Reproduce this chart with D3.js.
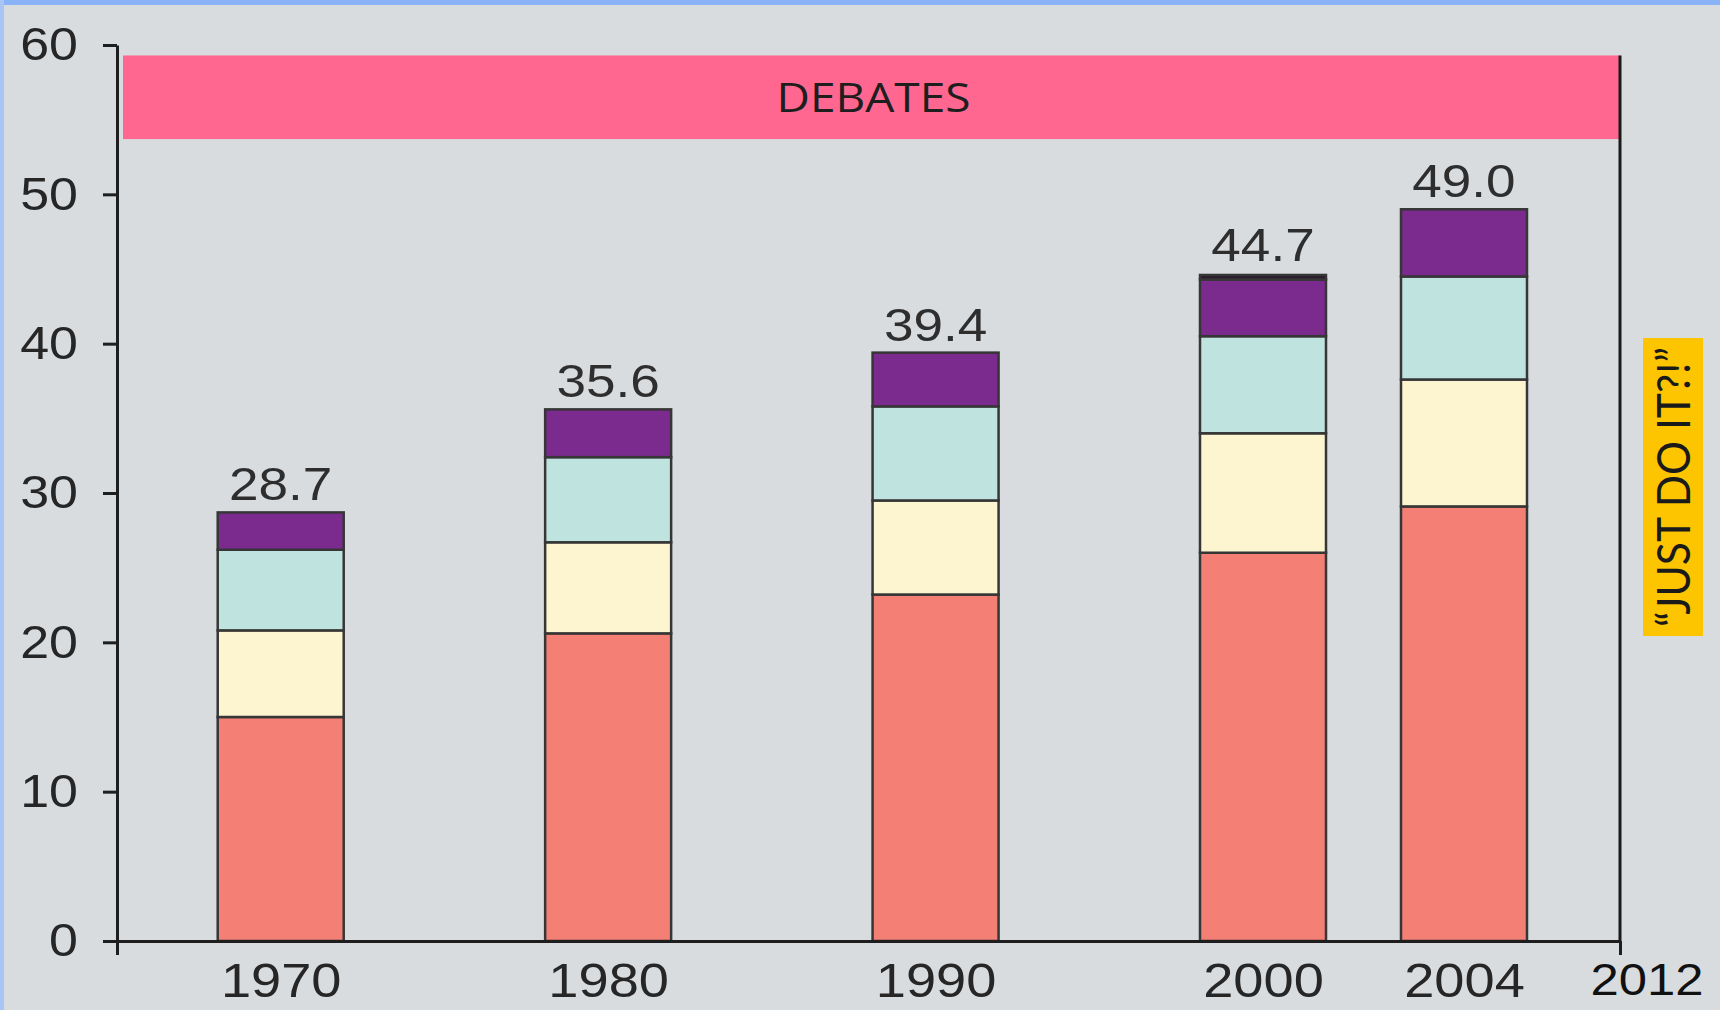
<!DOCTYPE html>
<meta charset="utf-8">
<style>
  body { margin: 0; background: #d9dcdf; }
  text { font-family: "Liberation Sans", Arial, sans-serif; }
</style>
<body>
<div id="chart"></div>
<script src="https://d3js.org/d3.v7.min.js"></script>
<script>

// Data ----------------
var years  = [1970, 1980, 1990, 2000, 2004];
var totals = [28.7, 35.6, 39.4, 44.7, 49.0];
var seg1 = [15.0, 20.6, 23.2, 26.0, 29.1];   // salmon
var seg2 = [5.8, 6.1, 6.3, 8.0, 8.5];        // cream
var seg3 = [5.4, 5.7, 6.3, 6.5, 6.9];        // pale teal
var seg4 = [2.5, 3.2, 3.6, 3.8, 4.5];        // purple
var seg5 = [0, 0, 0, 0.3, 0];                // dark cap
var yTicks = [0, 10, 20, 30, 40, 50, 60];
var endYear = 2012;
var bandLabel = "DEBATES";
var sideLabel = "\u201CJUST DO IT?!\u201D";

var keys = ["seg1", "seg2", "seg3", "seg4", "seg5"];
var colors = {seg1: "#f47f74", seg2: "#fdf5cf", seg3: "#bfe3df", seg4: "#7b2a8e", seg5: "#2b1a2e"};

var rows = years.map(function(y, i) {
  return {year: y, total: totals[i], seg1: seg1[i], seg2: seg2[i], seg3: seg3[i], seg4: seg4[i], seg5: seg5[i]};
});

// Layout ----------------
var W = 1720, H = 1010;
var barWidth = 126;
var stretchK = 1.13;   // numbers in the original are a bit wider than Arial

// x is piecewise: the 2000 -> 2004 -> 2012 stretch is squeezed in the original
var x = d3.scaleLinear()
    .domain([1965, 2000, 2004, endYear])
    .range([117, 1263, 1464, 1620]);
var y = d3.scaleLinear().domain([0, 60]).range([941, 45]);

// widen text horizontally, keeping its anchor in place
function stretch(sel) {
  sel.each(function() {
    var t = d3.select(this);
    var x0 = +t.attr("x") || 0;
    t.attr("x", x0 / stretchK).attr("transform", "scale(" + stretchK + ",1)");
  });
}

var svg = d3.select("#chart").append("svg")
    .attr("width", W)
    .attr("height", H);

svg.append("rect").attr("width", W).attr("height", H).attr("fill", "#d9dcdf");
svg.append("rect").attr("width", W).attr("height", 5).attr("fill", "#8ab2f6");
svg.append("rect").attr("width", 4).attr("height", H).attr("fill", "#a9c5f3");

// Debates band ----------------
svg.append("rect")
    .attr("x", x(1965) + 6)
    .attr("y", y(59.3))
    .attr("width", x(endYear) - x(1965) - 6)
    .attr("height", y(53.7) - y(59.3))
    .attr("fill", "#ff6690");

svg.append("text")
    .attr("x", (x(1965) + x(endYear)) / 2 + 5)
    .attr("y", (y(59.3) + y(53.7)) / 2)
    .attr("dy", "0.36em")
    .attr("text-anchor", "middle")
    .attr("textLength", 194)
    .attr("lengthAdjust", "spacingAndGlyphs")
    .style("font-family", "'Open Sans', Lato, sans-serif")
    .style("font-size", "41px")
    .attr("fill", "#1e1e1e")
    .text(bandLabel);

// 2012 line
svg.append("line")
    .attr("x1", x(endYear)).attr("x2", x(endYear))
    .attr("y1", y(59.3)).attr("y2", y(0))
    .attr("stroke", "#1a1a1a")
    .attr("stroke-width", 3);

// Stacked bars ----------------
var stack = d3.stack().keys(keys);
var series = stack(rows);

svg.append("g").selectAll("g")
  .data(series)
  .enter().append("g")
    .attr("fill", function(d) { return colors[d.key]; })
  .selectAll("rect")
  .data(function(d) { return d.filter(function(p) { return p[1] > p[0]; }); })
  .enter().append("rect")
    .attr("x", function(d) { return x(d.data.year) - barWidth / 2; })
    .attr("y", function(d) { return y(d[1]); })
    .attr("width", barWidth)
    .attr("height", function(d) { return y(d[0]) - y(d[1]); })
    .attr("stroke", "#363636")
    .attr("stroke-width", 2.5);

svg.append("g").selectAll("text")
  .data(rows)
  .enter().append("text")
    .attr("x", function(d) { return x(d.year); })
    .attr("y", function(d) { return y(d.total) - 12; })
    .attr("text-anchor", "middle")
    .style("font-size", "47px")
    .attr("fill", "#2e2e2e")
    .text(function(d) { return d.total.toFixed(1); })
    .call(stretch);

// Axes ----------------
var yAxis = svg.append("g")
    .attr("transform", "translate(" + x(1965) + ",0)")
    .call(d3.axisLeft(y).tickValues(yTicks).tickSize(14).tickSizeOuter(0).tickPadding(25));

var xEnds = svg.append("g")
    .attr("transform", "translate(0," + y(0) + ")")
    .call(d3.axisBottom(x).tickValues([1965, endYear]).tickSize(14).tickSizeOuter(0).tickFormat(""));

var xLabels = svg.append("g")
    .attr("transform", "translate(0," + y(0) + ")")
    .call(d3.axisBottom(x).tickValues(years).tickSize(0).tickPadding(22).tickFormat(d3.format("d")));
xLabels.select(".domain").remove();

svg.append("text")
    .attr("x", x(endYear) + 27)
    .attr("y", y(0) + 22)
    .attr("dy", "0.71em")
    .attr("text-anchor", "middle")
    .style("font-size", "45px")
    .attr("fill", "#111")
    .text(endYear)
    .call(stretch);

[yAxis, xEnds].forEach(function(g) {
  g.selectAll(".domain, line").attr("stroke", "#1e1e1e").attr("stroke-width", 3);
});
yAxis.selectAll("text").style("font-size", "46px").attr("fill", "#262626").call(stretch);
xLabels.selectAll("text").style("font-size", "48px").attr("fill", "#262626").call(stretch);

// Side note ----------------
var note = svg.append("g")
    .attr("transform", "translate(1673,487) rotate(-90)");

note.append("rect")
    .attr("x", -149).attr("y", -30)
    .attr("width", 298).attr("height", 60)
    .attr("fill", "#fdc400");

note.append("text")
    .attr("text-anchor", "middle")
    .attr("dy", "0.36em")
    .attr("textLength", 280)
    .attr("lengthAdjust", "spacingAndGlyphs")
    .style("font-family", "Lato, 'Open Sans', sans-serif")
    .style("font-size", "46px")
    .attr("fill", "#1a1a1a")
    .text(sideLabel);

</script>
</body>
